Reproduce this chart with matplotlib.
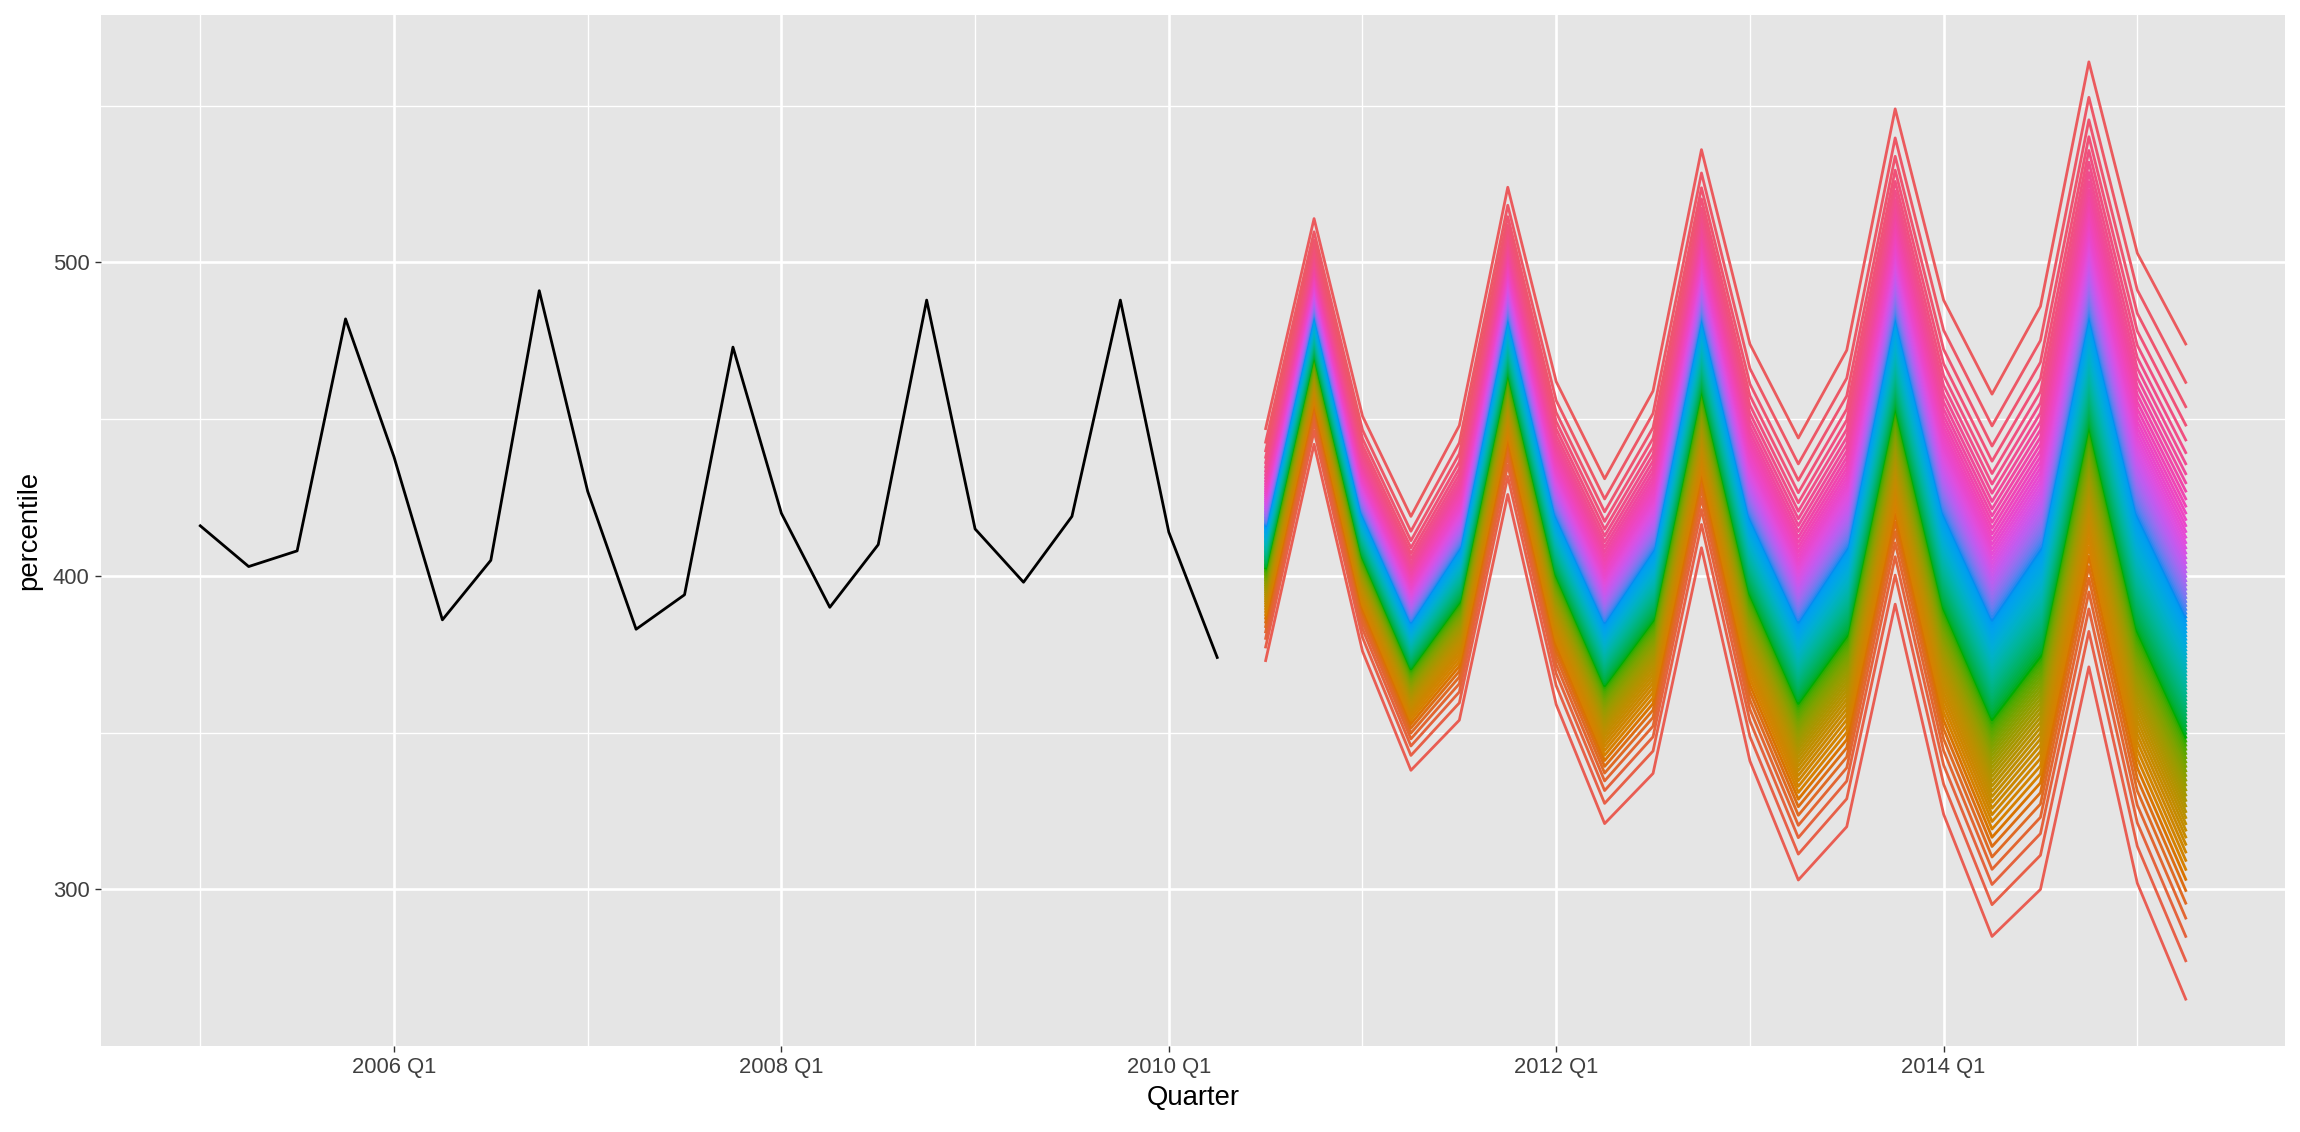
import numpy as np
import matplotlib
matplotlib.use("Agg")
import matplotlib.pyplot as plt
from matplotlib.colors import rgb_to_hsv, hsv_to_rgb
from statistics import NormalDist

# quarterly actuals, 2005 Q1 .. 2010 Q2
hist_years = [2005] * 4 + [2006] * 4 + [2007] * 4 + [2008] * 4 + [2009] * 4 + [2010] * 2
hist_qtrs = [1, 2, 3, 4] * 5 + [1, 2]
hist_values = [416, 403, 408, 482, 438, 386, 405, 491, 427, 383, 394, 473,
               420, 390, 410, 488, 415, 398, 419, 488, 414, 374]

# forecast horizon, 2010 Q3 .. 2015 Q2: outermost percentile lines
fc_years = [2010, 2010] + [2011] * 4 + [2012] * 4 + [2013] * 4 + [2014] * 4 + [2015] * 2
fc_qtrs = [3, 4] + [1, 2, 3, 4] * 4 + [1, 2]
fc_p01 = [373, 442, 376, 338, 354, 426, 359, 321, 337, 409,
          341, 303, 320, 391, 324, 285, 300, 371, 302, 265]
fc_p99 = [447, 514, 451, 419, 448, 524, 462, 431, 459, 536,
          474, 444, 472, 549, 488, 458, 486, 564, 503, 474]
percentiles = list(range(1, 100))

x_breaks = [2006, 2008, 2010, 2012, 2014]
x_labels = ["2006 Q1", "2008 Q1", "2010 Q1", "2012 Q1", "2014 Q1"]
y_breaks = [300, 400, 500]


def hue_pal(n, h0=15, c=100, l=65):
    """ggplot2's default discrete palette (polar LUV -> sRGB)."""
    h = np.deg2rad(h0 + 360 * np.arange(n) / n)
    u, v = c * np.cos(h), c * np.sin(h)
    xn, yn, zn = 95.047, 100.0, 108.883
    un = 4 * xn / (xn + 15 * yn + 3 * zn)
    vn = 9 * yn / (xn + 15 * yn + 3 * zn)
    Y = yn * ((l + 16) / 116) ** 3
    up, vp = u / (13 * l) + un, v / (13 * l) + vn
    X = 9 * Y * up / (4 * vp)
    Z = -X / 3 - 5 * Y + 3 * Y / vp
    X, Y, Z = X / 100, Y / 100, Z / 100
    rgb = np.stack([3.240479 * X - 1.537150 * Y - 0.498535 * Z,
                    -0.969256 * X + 1.875992 * Y + 0.041556 * Z,
                    0.055648 * X - 0.204043 * Y + 1.057311 * Z], axis=1)
    rgb = np.where(rgb <= 0.0031308, 12.92 * rgb, 1.055 * np.clip(rgb, 0, None) ** (1 / 2.4) - 0.055)
    rgb = np.clip(rgb, 0, 1)
    # the reference render is a bit more saturated than plain sRGB hcl
    hsv = rgb_to_hsv(rgb)
    hsv[:, 1] = np.clip(hsv[:, 1] * 1.15, 0, 1)
    hsv[:, 2] = hsv[:, 2] * 0.94
    return hsv_to_rgb(hsv)


plt.rcParams["font.family"] = ["Liberation Sans", "DejaVu Sans"]

x_hist = np.array(hist_years) + (np.array(hist_qtrs) - 1) / 4
x_fc = np.array(fc_years) + (np.array(fc_qtrs) - 1) / 4
lo, hi = np.array(fc_p01, float), np.array(fc_p99, float)
mid = (lo + hi) / 2
z99 = NormalDist().inv_cdf(0.99)
sd = (hi - lo) / (2 * z99)

fig = plt.figure(figsize=(23, 11.32), dpi=100)
ax = fig.add_axes([101 / 2300, 86 / 1132, 2184 / 2300, 1031 / 1132])
ax.set_facecolor("#E5E5E5")

cols = hue_pal(len(percentiles))
ax.plot(x_hist, hist_values, color="black", lw=2.0, zorder=3)
for p, col in zip(percentiles, cols):
    z = NormalDist().inv_cdf(p / 100)
    ax.plot(x_fc, mid + z * sd, color=col, lw=2.0, zorder=3)

ax.margins(x=0.05, y=0.05)
ax.set_xticks(x_breaks)
ax.set_xticklabels(x_labels)
ax.set_xticks([b + 1 for b in [2004] + x_breaks], minor=True)
ax.set_yticks(y_breaks)
ax.set_yticks([350, 450, 550], minor=True)
ax.grid(which="major", color="white", lw=1.9)
ax.grid(which="minor", color="white", lw=0.95)
ax.set_axisbelow(True)
for s in ax.spines.values():
    s.set_visible(False)
ax.tick_params(which="major", length=4.2, width=1.0, color="#333333",
               labelsize=15.8, labelcolor="#3F3F3F", pad=4)
ax.tick_params(which="minor", length=0)

ax.set_xlabel("Quarter", fontsize=19.8, color="black", labelpad=5)
ax.set_ylabel("percentile", fontsize=19.8, color="black", labelpad=8)

fig.savefig("out.png", dpi=100)
